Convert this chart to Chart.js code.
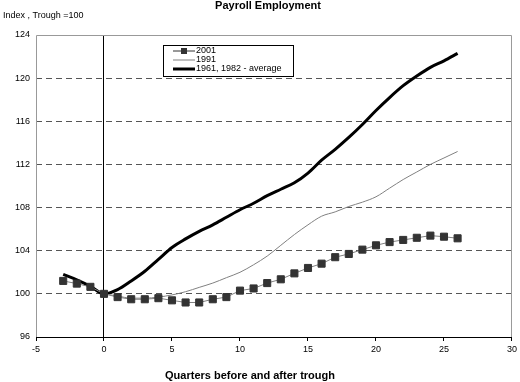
<!DOCTYPE html>
<html>
<head>
<meta charset="utf-8">
<script src="https://cdn.jsdelivr.net/npm/chart.js@4.4.1/dist/chart.umd.min.js"></script>
<style>
    body { margin: 0; background: #fff; }
    #wrap { width: 520px; height: 382px; }
</style>
</head>
<body>
<div id="wrap"><canvas id="payrollChart" width="520" height="382"></canvas></div>
<script>
// quarters relative to trough
const quarters = [-3, -2, -1, 0, 1, 2, 3, 4, 5, 6, 7, 8, 9, 10, 11, 12, 13, 14, 15, 16, 17, 18, 19, 20, 21, 22, 23, 24, 25, 26];
const quarters1991 = [0, 1, 2, 3, 4, 5, 6, 7, 8, 9, 10, 11, 12, 13, 14, 15, 16, 17, 18, 19, 20, 21, 22, 23, 24, 25, 26];

const values2001 = [101.2, 100.95, 100.65, 100.0, 99.7, 99.5, 99.5, 99.6, 99.4, 99.2, 99.2, 99.5, 99.7, 100.3, 100.5,
    101.0, 101.35, 101.9, 102.4, 102.8, 103.4, 103.7, 104.1, 104.5, 104.8, 105.0, 105.2, 105.4, 105.3, 105.15];
const values1991 = [100.0, 99.8, 99.6, 99.6, 99.7, 99.9, 100.2, 100.6, 101.0, 101.5, 102.0, 102.7, 103.5, 104.5,
    105.5, 106.4, 107.2, 107.6, 108.1, 108.5, 109.0, 109.8, 110.6, 111.3, 112.0, 112.6, 113.2];
const valuesAverage = [101.8, 101.3, 100.7, 100.0, 100.4, 101.2, 102.1, 103.2, 104.3, 105.1, 105.8, 106.4, 107.1, 107.8,
    108.4, 109.1, 109.7, 110.3, 111.2, 112.4, 113.4, 114.5, 115.7, 117.0, 118.2, 119.3, 120.2, 121.0, 121.6, 122.3];

const seriesLabels = ['2001', '1991', '1961, 1982 - average'];
const yTicks = [96, 100, 104, 108, 112, 116, 120, 124];
const xTicks = [-5, 0, 5, 10, 15, 20, 25, 30];

const FONT = '"Liberation Sans", Arial, sans-serif';

function toPoints(xs, ys) {
    return xs.map((x, i) => ({ x: x, y: ys[i] }));
}

// titles, plot frame and the boxed legend
const decorPlugin = {
    id: 'decor',
    afterDraw(chart) {
        const ctx = chart.ctx;
        const area = chart.chartArea;
        ctx.save();

        // frame (left / top / right in grey)
        ctx.strokeStyle = '#999';
        ctx.lineWidth = 1;
        ctx.beginPath();
        ctx.moveTo(area.left + 0.5, area.bottom);
        ctx.lineTo(area.left + 0.5, area.top + 0.5);
        ctx.lineTo(area.right - 0.5, area.top + 0.5);
        ctx.lineTo(area.right - 0.5, area.bottom);
        ctx.stroke();

        ctx.fillStyle = '#000';
        ctx.textBaseline = 'middle';
        ctx.textAlign = 'center';
        ctx.font = 'bold 11px ' + FONT;
        ctx.fillText('Payroll Employment', 268, 6);
        ctx.fillText('Quarters before and after trough', 250, 376);

        ctx.textAlign = 'left';
        ctx.font = '9px ' + FONT;
        ctx.fillText('Index , Trough =100', 3, 16);

        // legend box
        const bx = 163, by = 45, bw = 130, bh = 31;
        ctx.fillStyle = '#fff';
        ctx.fillRect(bx, by, bw, bh);
        ctx.strokeStyle = '#000';
        ctx.lineWidth = 1;
        ctx.strokeRect(bx + 0.5, by + 0.5, bw, bh);

        const rows = [51, 60, 69];
        chart.data.datasets.forEach((ds, i) => {
            const y = rows[i];
            ctx.strokeStyle = i === 0 ? '#333' : ds.borderColor;
            ctx.lineWidth = ds.borderWidth;
            ctx.beginPath();
            ctx.moveTo(173, y);
            ctx.lineTo(195, y);
            ctx.stroke();
            if (i === 0) {
                ctx.fillStyle = '#333';
                ctx.fillRect(181, y - 3, 6, 6);
            }
            ctx.fillStyle = '#000';
            ctx.font = '9px ' + FONT;
            ctx.fillText(ds.label, 196, y);
        });

        ctx.restore();
    }
};

const config = {
    type: 'line',
    data: {
        datasets: [
            {
                label: seriesLabels[0],
                data: toPoints(quarters, values2001),
                borderColor: '#808080',
                borderWidth: 1,
                pointStyle: 'rect',
                pointRadius: 5,
                pointBackgroundColor: '#333',
                pointBorderColor: '#333',
                pointBorderWidth: 1,
                tension: 0,
                order: 1,
            },
            {
                label: seriesLabels[1],
                data: toPoints(quarters1991, values1991),
                borderColor: '#808080',
                borderWidth: 1,
                pointRadius: 0,
                cubicInterpolationMode: 'monotone',
                order: 2,
            },
            {
                label: seriesLabels[2],
                data: toPoints(quarters, valuesAverage),
                borderColor: '#000',
                borderWidth: 3,
                pointRadius: 0,
                cubicInterpolationMode: 'monotone',
                order: 3,
            }
        ]
    },
    plugins: [decorPlugin],
    options: {
        responsive: false,
        animation: false,
        layout: { padding: { top: 35, right: 8, left: 0, bottom: 0 } },
        plugins: {
            legend: { display: false },
            title: { display: false },
            tooltip: { enabled: false },
        },
        scales: {
            x: {
                type: 'linear',
                min: -5,
                max: 30,
                afterBuildTicks: (scale) => { scale.ticks = xTicks.map(v => ({ value: v })); },
                afterFit: (scale) => { scale.height = 45; },
                border: { color: '#000', width: 1 },
                grid: {
                    color: (c) => (c.tick && c.tick.value === 0 ? '#000' : 'rgba(0,0,0,0)'),
                    tickColor: '#000',
                    tickLength: 4,
                    drawTicks: true,
                },
                ticks: {
                    color: '#000',
                    padding: 3,
                    maxRotation: 0,
                    font: { family: FONT, size: 9 },
                },
            },
            y: {
                min: 96,
                max: 124,
                afterBuildTicks: (scale) => { scale.ticks = yTicks.map(v => ({ value: v })); },
                afterFit: (scale) => { scale.width = 36; },
                border: { display: false, dash: [6, 4] },
                grid: {
                    color: (c) => (c.tick && (c.tick.value === 96 || c.tick.value === 124) ? 'rgba(0,0,0,0)' : '#555'),
                    tickColor: 'rgba(0,0,0,0)',
                    tickBorderDash: [],
                    tickLength: 3,
                },
                ticks: {
                    color: '#000',
                    padding: 3,
                    font: { family: FONT, size: 9 },
                },
            }
        }
    }
};

const ctx = document.getElementById('payrollChart').getContext('2d');
const chart = new Chart(ctx, config);
</script>
</body>
</html>
